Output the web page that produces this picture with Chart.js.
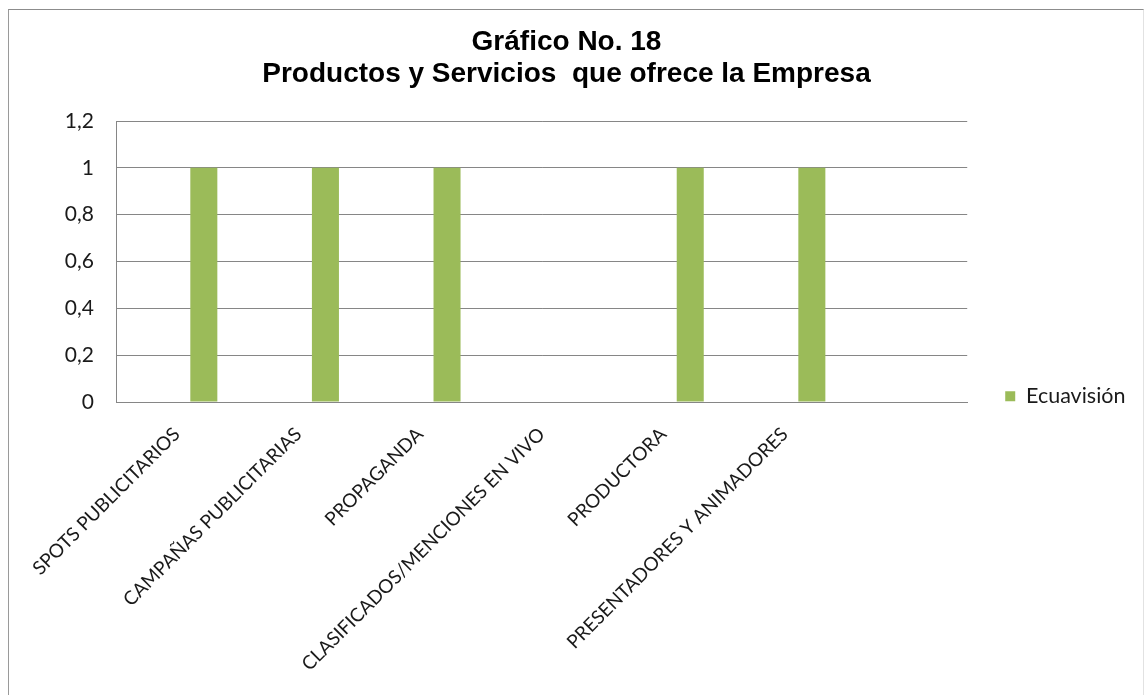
<!DOCTYPE html>
<html>
<head>
<meta charset="utf-8">
<script src="https://cdn.jsdelivr.net/npm/chart.js@4.4.1/dist/chart.umd.min.js"></script>
<style>
  html, body { margin: 0; padding: 0; background: #ffffff; width: 1145px; height: 695px; overflow: hidden; }
  #frame {
    position: absolute; left: 8px; top: 9px; width: 1136px; height: 700px; box-sizing: border-box;
    border-top: 1px solid #8c8c8c; border-left: 1px solid #9a9a9a; border-right: 1px solid #e2e2e2;
  }
  #c { position: absolute; left: 0; top: 0; }
</style>
</head>
<body>
<div id="frame"></div>
<canvas id="c" width="1140" height="695"></canvas>
<script>
// Chart text
const titleLines = ['Gráfico No. 18', 'Productos y Servicios  que ofrece la Empresa'];
const seriesName = 'Ecuavisión';

// Categories (the last slot is an empty category)
const categories = [
  'SPOTS PUBLICITARIOS',
  'CAMPAÑAS PUBLICITARIAS',
  'PROPAGANDA',
  'CLASIFICADOS/MENCIONES EN VIVO',
  'PRODUCTORA',
  'PRESENTADORES Y ANIMADORES',
  ''
];

// Series values
const ecuavision = [1, 1, 1, 0, 1, 1, null];
const blankSeriesA = [null, null, null, null, null, null, null];
const blankSeriesB = [null, null, null, null, null, null, null];

// Value axis
const yMin = 0;
const yMax = 1.2;
const yStep = 0.2;
const yTickLabels = ['0', '0,2', '0,4', '0,6', '0,8', '1', '1,2'];

const textColor = '#1a1a1a';
const gridColor = '#868686';
const barColor = '#9BBB59';
const bodyFont = 'Lato, "Open Sans", sans-serif';

const padLeft = 25.5;
const padRight = 32.5;

// Places the legend block beside the plot, just above the category axis
const legendShift = {
  id: 'legendShift',
  afterLayout(chart, args, opts) {
    const lg = chart.legend;
    if (!lg) return;
    const h = lg.bottom - lg.top;
    lg.left += opts.dx; lg.right += opts.dx;
    lg.bottom = chart.chartArea.bottom + opts.dy;
    lg.top = lg.bottom - h;
  }
};

new Chart(document.getElementById('c'), {
  type: 'bar',
  data: {
    labels: categories,
    datasets: [
      { label: '', data: blankSeriesA, backgroundColor: barColor },
      { label: '', data: blankSeriesB, backgroundColor: barColor },
      { label: seriesName, data: ecuavision, backgroundColor: barColor, borderWidth: 0 }
    ]
  },
  plugins: [legendShift],
  options: {
    responsive: false,
    animation: false,
    events: [],
    categoryPercentage: 0.6667,
    barPercentage: 1,
    layout: { padding: { left: padLeft, right: padRight, top: 0, bottom: 0 } },
    plugins: {
      legendShift: { dx: 28, dy: 15 },
      tooltip: { enabled: false },
      title: {
        display: true,
        text: titleLines,
        color: '#000000',
        font: { family: '"Liberation Sans", Arial, sans-serif', size: 28, weight: 'bold', lineHeight: 32 / 28 },
        padding: { top: 26, bottom: 31 }
      },
      legend: {
        position: 'right',
        align: 'end',
        labels: {
          filter: (item) => item.text !== '',
          boxWidth: 10,
          boxHeight: 10,
          padding: 10,
          color: textColor,
          font: { family: bodyFont, size: 21.5 }
        }
      }
    },
    scales: {
      x: {
        grid: { display: false, drawTicks: false },
        border: { display: true, color: gridColor, width: 1 },
        afterFit: (scale) => {
          scale.height = 293;
          scale.paddingLeft = 0;
          scale.paddingRight = 0;
        },
        ticks: {
          autoSkip: false,
          minRotation: 45,
          maxRotation: 45,
          padding: 21,
          labelOffset: 0,
          color: textColor,
          font: { family: bodyFont, size: 19 }
        }
      },
      y: {
        min: yMin,
        max: yMax,
        afterFit: (scale) => { scale.width = 116 - padLeft; },
        grid: { color: gridColor, lineWidth: 1, drawTicks: false },
        border: { display: true, color: gridColor, width: 1 },
        ticks: {
          stepSize: yStep,
          padding: 22,
          color: textColor,
          font: { family: bodyFont, size: 21 },
          callback: (value, index) => yTickLabels[index]
        }
      }
    }
  }
});
</script>
</body>
</html>
